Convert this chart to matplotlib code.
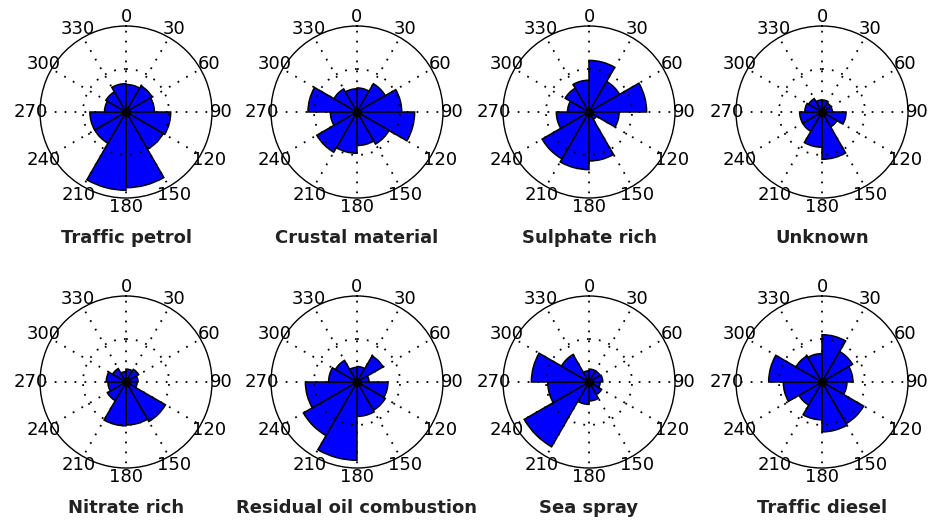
import numpy as np
import matplotlib.pyplot as plt

# direction bins (start of each 30 degree sector, clockwise from north)
sectors = np.arange(0, 360, 30)

titles = ["Traffic petrol", "Crustal material", "Sulphate rich", "Unknown",
          "Nitrate rich", "Residual oil combustion", "Sea spray", "Traffic diesel"]

# relative contribution per sector (outer ring = 1)
traffic_petrol = [0.32, 0.35, 0.33, 0.52, 0.50, 0.88, 0.91, 0.42, 0.42, 0.25, 0.27, 0.33]
crustal = [0.28, 0.38, 0.52, 0.67, 0.43, 0.39, 0.48, 0.54, 0.31, 0.57, 0.31, 0.27]
sulphate = [0.60, 0.41, 0.67, 0.35, 0.10, 0.57, 0.67, 0.63, 0.38, 0.25, 0.32, 0.37]
unknown = [0.14, 0.12, 0.12, 0.28, 0.20, 0.55, 0.41, 0.26, 0.26, 0.20, 0.18, 0.14]
nitrate = [0.15, 0.17, 0.14, 0.13, 0.53, 0.50, 0.51, 0.25, 0.21, 0.23, 0.18, 0.12]
residual_oil = [0.18, 0.35, 0.14, 0.36, 0.38, 0.40, 0.91, 0.72, 0.60, 0.33, 0.29, 0.17]
sea_spray = [0.15, 0.15, 0.16, 0.13, 0.17, 0.22, 0.26, 0.87, 0.48, 0.67, 0.37, 0.13]
traffic_diesel = [0.55, 0.41, 0.36, 0.29, 0.56, 0.58, 0.44, 0.31, 0.45, 0.62, 0.35, 0.33]

roses = [traffic_petrol, crustal, sulphate, unknown,
         nitrate, residual_oil, sea_spray, traffic_diesel]

W, H = 930, 524
R = 86  # plot radius in pixels
centres_x = [126, 357, 589, 822]
centres_y = [112, 382]

fig = plt.figure(figsize=(W / 100, H / 100), dpi=100)

for i in range(len(titles)):
    cx = centres_x[i % 4]
    cy = centres_y[i // 4]
    ax = fig.add_axes([(cx - R) / W, 1 - (cy + R) / H, 2 * R / W, 2 * R / H],
                      projection="polar")
    ax.set_theta_zero_location("N")
    ax.set_theta_direction(-1)

    ax.bar(np.deg2rad(sectors), roses[i], width=np.deg2rad(30), align="edge",
           color="#0000ff", edgecolor="black", linewidth=1.1, zorder=1)
    ax.plot(0, 0, "o", color="black", ms=5.5, zorder=4)

    ax.set_ylim(0, 1)
    ax.set_xticks(np.deg2rad(sectors))
    ax.set_xticklabels([])
    ax.set_yticks([0.5])
    ax.set_yticklabels([])
    # dotted grid sits on top of the wedges
    ax.set_axisbelow(False)
    ax.grid(True, color="black", linestyle=(0, (1, 4.5)), linewidth=1.3)
    ax.spines["polar"].set_linewidth(1.0)

    # angle labels just outside the circle
    for a in sectors:
        ax.text(np.deg2rad(a), 1.11, str(a), ha="center", va="center",
                fontsize=13, clip_on=False)

    fig.text(cx / W, 1 - (cy + 126) / H, titles[i], ha="center", va="center",
             fontsize=13, fontweight="bold", color="#222222")

fig.savefig("out.png", dpi=100)
